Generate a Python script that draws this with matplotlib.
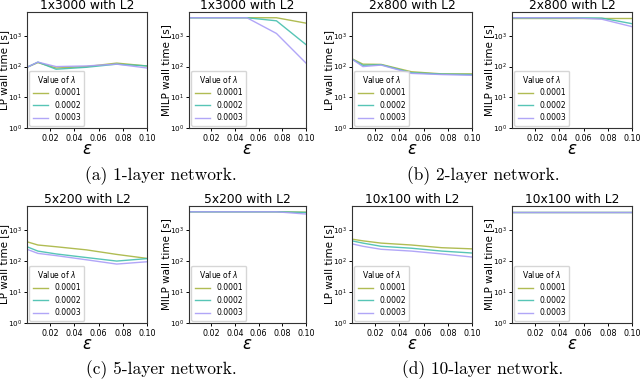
import matplotlib
matplotlib.use("Agg")
import matplotlib.pyplot as plt
import numpy as np

eps = [0.001, 0.01, 0.025, 0.05, 0.075, 0.1]
lambdas = ["0.0001", "0.0002", "0.0003"]
colors = ["#a8b540", "#45bfae", "#a99cf7"]

titles = ["1x3000 with L2", "2x800 with L2", "5x200 with L2", "10x100 with L2"]
captions = ["(a) 1-layer network.", "(b) 2-layer network.",
            "(c) 5-layer network.", "(d) 10-layer network."]

lp_1x3000 = [[95, 135, 90, 100, 130, 105],
             [95, 140, 82, 95, 120, 105],
             [95, 140, 100, 105, 120, 90]]
milp_1x3000 = [[3900, 3900, 3900, 3900, 3900, 2600],
               [3900, 3900, 3900, 3900, 3100, 520],
               [3900, 3900, 3900, 3900, 1200, 130]]

lp_2x800 = [[180, 120, 118, 68, 58, 58],
            [175, 110, 115, 63, 57, 55],
            [175, 100, 112, 60, 55, 52]]
milp_2x800 = [[3900, 3900, 3900, 3900, 3900, 3900],
              [3900, 3900, 3900, 3900, 3800, 2500],
              [3900, 3900, 3900, 3900, 3500, 2000]]

lp_5x200 = [[420, 330, 290, 230, 164, 122],
            [290, 210, 170, 130, 100, 120],
            [240, 177, 150, 110, 80, 95]]
milp_5x200 = [[3900, 3900, 3900, 3900, 3900, 3800],
              [3900, 3900, 3900, 3900, 3900, 3700],
              [3900, 3900, 3900, 3900, 3900, 3300]]

lp_10x100 = [[510, 450, 380, 330, 270, 248],
             [450, 380, 300, 260, 210, 182],
             [360, 300, 240, 210, 170, 135]]
milp_10x100 = [[3900, 3900, 3900, 3900, 3900, 3900],
               [3900, 3900, 3900, 3900, 3900, 3900],
               [3900, 3900, 3900, 3900, 3900, 3900]]

panels = [(lp_1x3000, milp_1x3000), (lp_2x800, milp_2x800),
          (lp_5x200, milp_5x200), (lp_10x100, milp_10x100)]

W, H = 640, 383
fig = plt.figure(figsize=(6.4, 3.83), dpi=100)

def px_axes(l, t, r, b):
    return fig.add_axes([l / W, 1 - b / H, (r - l) / W, (b - t) / H])

col_pos = [((27, 147), (189, 306)), ((352, 472), (512, 632))]
row_pos = [(12, 128), (206, 323)]
cap_pos = [(161, 176), (483, 176), (161, 370), (483, 370)]

for i, (lp, milp) in enumerate(panels):
    r, c = divmod(i, 2)
    t, b = row_pos[r]
    for j, (data, ylabel) in enumerate([(lp, "LP wall time [s]"), (milp, "MILP wall time [s]")]):
        l, rr = col_pos[c][j]
        ax = px_axes(l, t, rr, b)
        for k in range(3):
            ax.plot(eps, data[k], color=colors[k], lw=1.0, label=lambdas[k], alpha=0.9)
        ax.set_yscale("log")
        ax.set_ylim(1, 6000)
        ax.set_xlim(0.001, 0.1)
        ax.set_xticks([0.02, 0.04, 0.06, 0.08, 0.10])
        ax.set_xticklabels(["0.02", "0.04", "0.06", "0.08", "0.10"])
        ax.tick_params(labelsize=5.8, length=2.5, pad=1.5, width=0.7)
        ax.tick_params(axis="y", labelsize=5.2, pad=1.0)
        ax.minorticks_off()
        ax.set_yticks([1, 10, 100, 1000])
        ax.set_title(titles[i], fontsize=8.8, pad=2)
        ax.set_ylabel(ylabel, fontsize=7.5)
        ax.yaxis.set_label_coords(-18.0 / (rr - l), 0.5)
        ax.set_xlabel(r"$\epsilon$", fontsize=12, labelpad=-2)
        leg = ax.legend(title=r"Value of $\lambda$", loc="lower left", fontsize=5.5,
                        title_fontsize=5.5, handlelength=2.0, borderpad=0.45,
                        labelspacing=0.45, borderaxespad=0.3, framealpha=0.8)
        for sp in ax.spines.values():
            sp.set_linewidth(0.8)
            sp.set_color("#333333")
    fig.text(cap_pos[i][0] / W, 1 - cap_pos[i][1] / H, captions[i],
             family="cmr10", fontsize=12.5, ha="center", va="center")

fig.savefig("out.png", dpi=100)
